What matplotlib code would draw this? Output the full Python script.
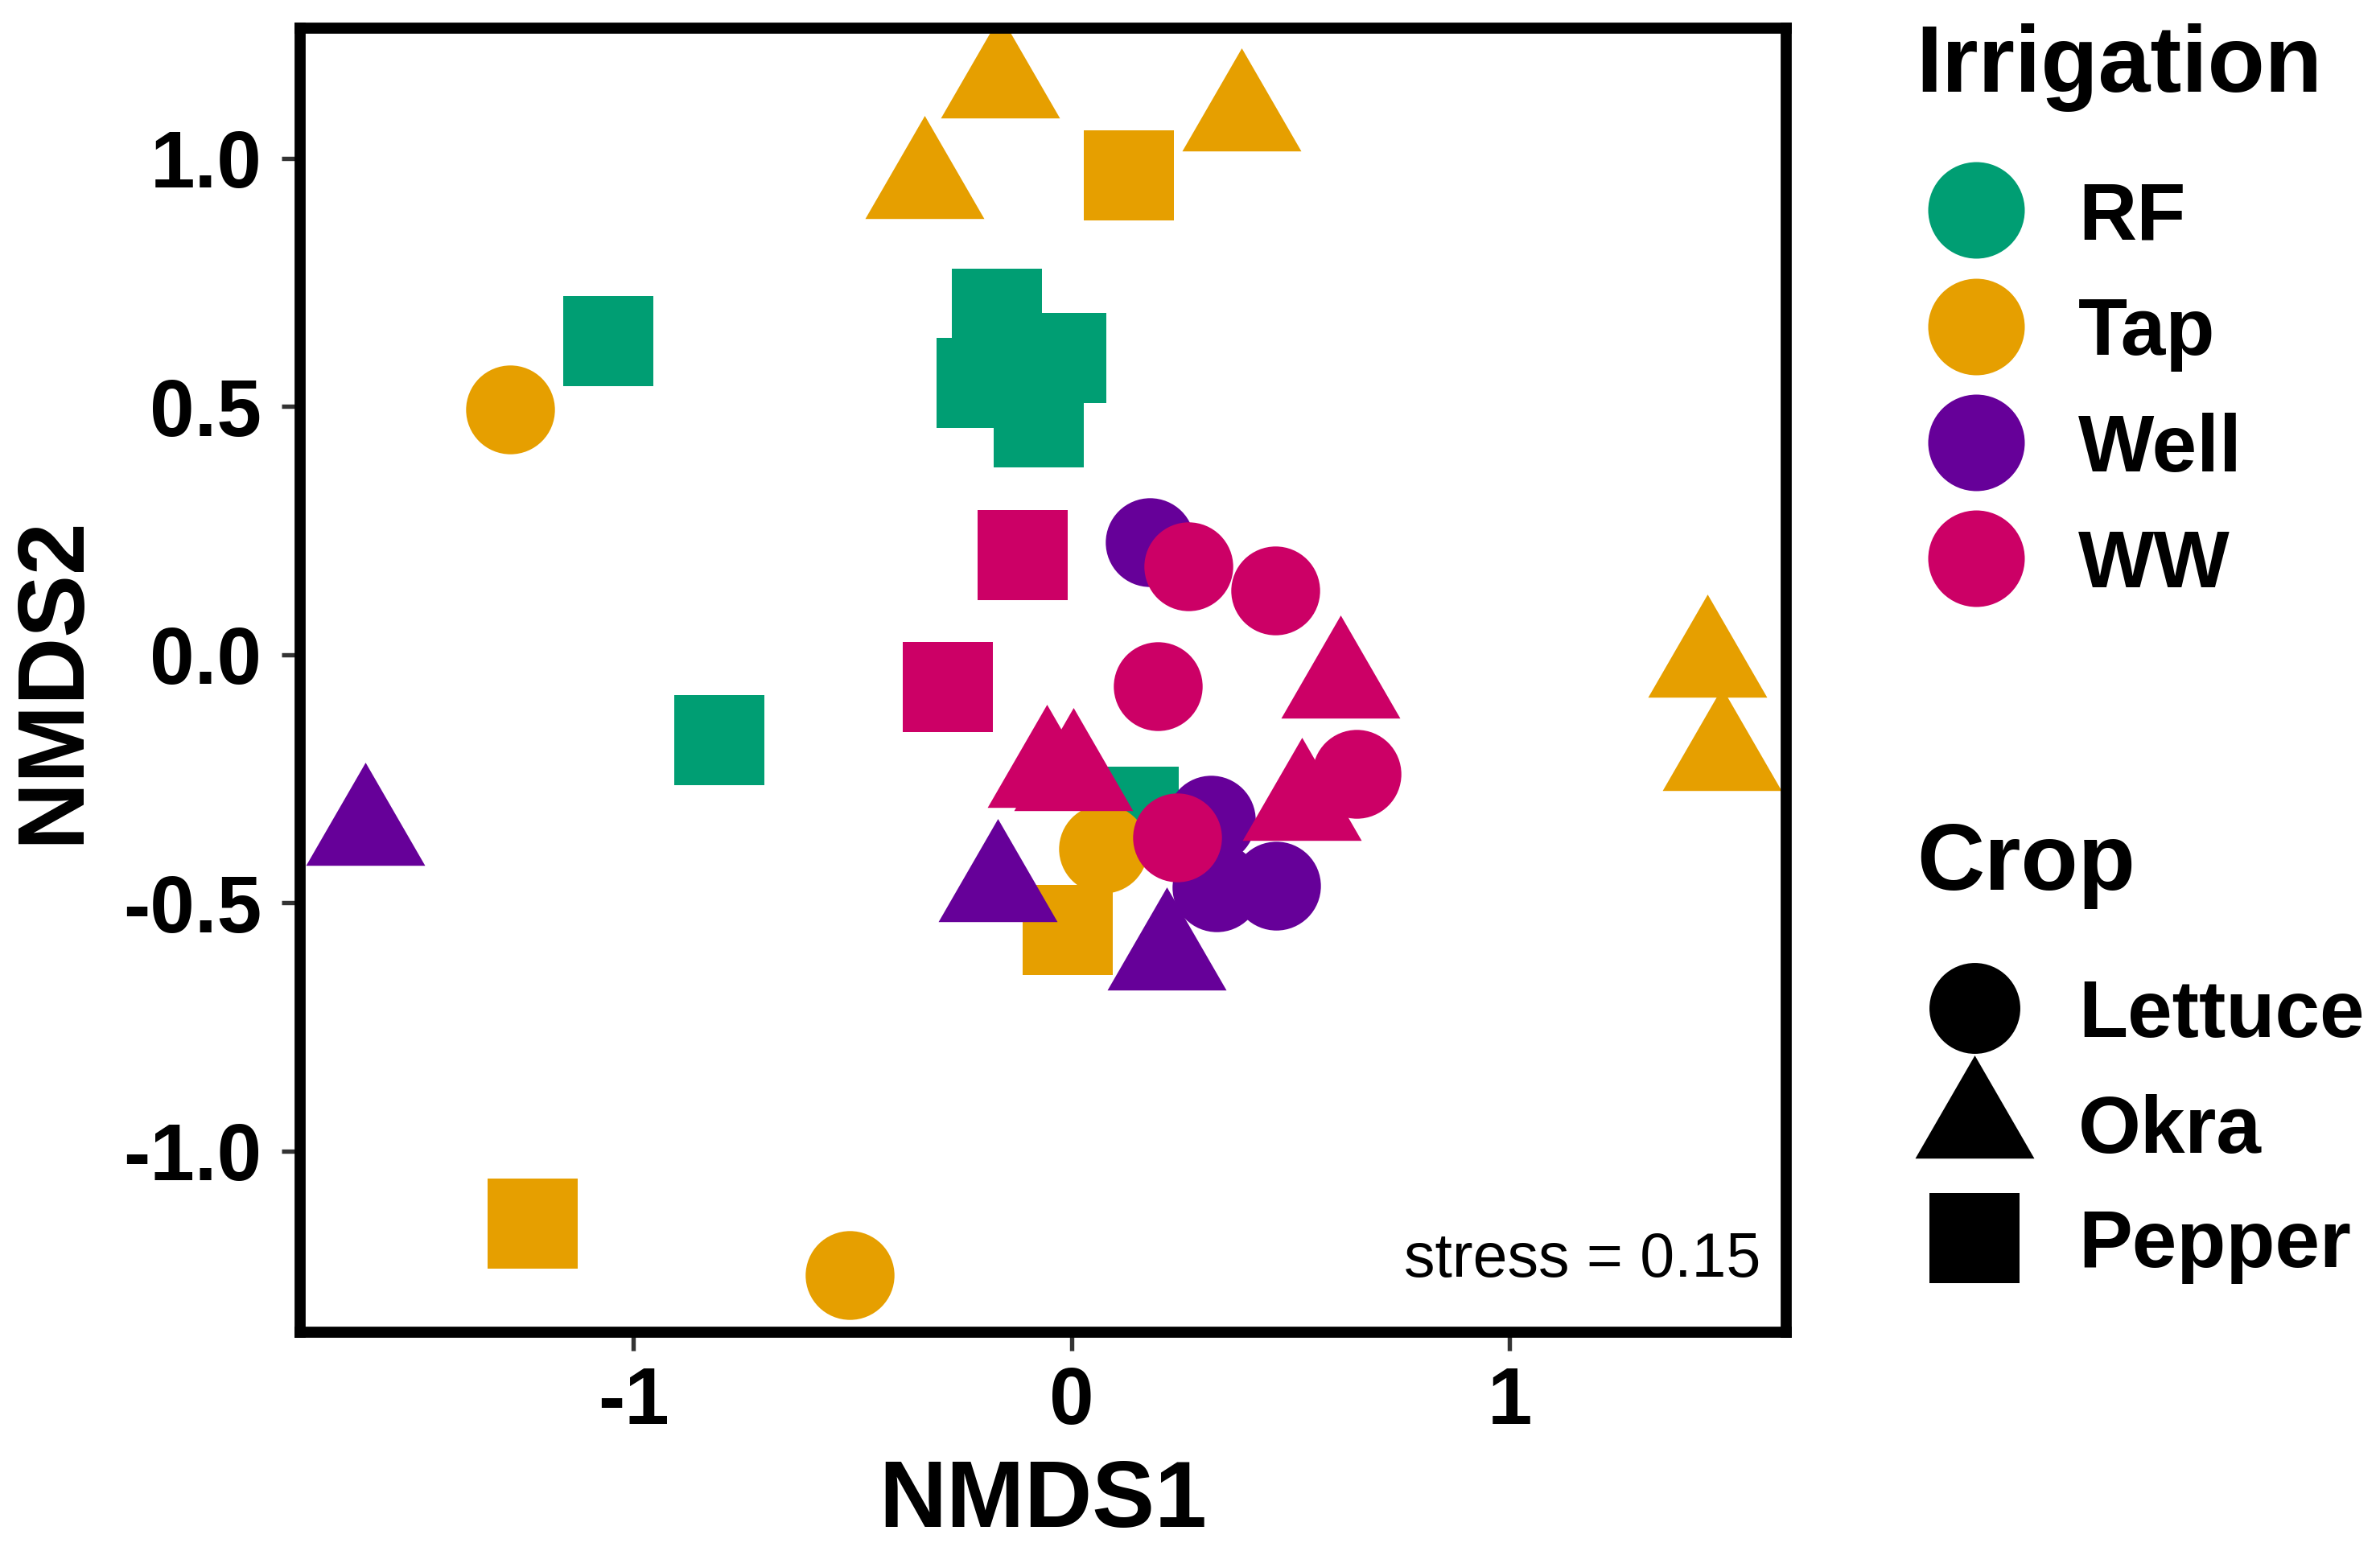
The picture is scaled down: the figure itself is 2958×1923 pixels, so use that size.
import matplotlib
matplotlib.use("Agg")
import matplotlib.pyplot as plt
from matplotlib.path import Path

plt.rcParams["font.family"] = "Liberation Sans"
plt.rcParams["font.weight"] = "bold"
plt.rcParams["axes.unicode_minus"] = False

# ---- data (NMDS scores) ----
irrigation = ["RF", "Tap", "Well", "WW"]
irr_colors = ["#009E73", "#E69F00", "#660099", "#CC0066"]
crops = ["Lettuce", "Okra", "Pepper"]

rf_crop = ["Pepper", "Pepper", "Pepper", "Pepper", "Pepper", "Pepper", "Pepper"]
rf_x = [-1.058, -0.804, -0.170, -0.024, -0.205, -0.076, 0.142]
rf_y = [0.632, -0.172, 0.686, 0.597, 0.548, 0.468, -0.316]

tap_crop = ["Okra", "Okra", "Pepper", "Okra", "Lettuce", "Pepper",
            "Lettuce", "Okra", "Okra", "Lettuce", "Pepper"]
tap_x = [-0.163, -0.335, 0.131, 0.387, -1.281, -1.230, -0.506, 1.451, 1.484, 0.072, -0.009]
tap_y = [1.150, 0.947, 0.965, 1.084, 0.494, -1.146, -1.250, -0.017, -0.205, -0.391, -0.554]

well_crop = ["Okra", "Okra", "Okra", "Lettuce", "Lettuce", "Lettuce", "Lettuce"]
well_x = [-1.612, -0.168, 0.216, 0.178, 0.317, 0.330, 0.466]
well_y = [-0.355, -0.468, -0.606, 0.226, -0.332, -0.468, -0.465]

ww_crop = ["Pepper", "Pepper", "Lettuce", "Lettuce", "Lettuce", "Okra",
           "Okra", "Okra", "Okra", "Lettuce", "Lettuce"]
ww_x = [-0.111, -0.282, 0.267, 0.465, 0.197, 0.613, -0.056, 0.003, 0.525, 0.650, 0.241]
ww_y = [0.201, -0.065, 0.178, 0.130, -0.063, -0.058, -0.238, -0.245, -0.305, -0.240, -0.368]

stress = 0.15

# ---- marker shapes (triangle centred on its centroid, like R's pch 17) ----
tri = Path([(0, 1), (-0.866, -0.5), (0.866, -0.5), (0, 1)],
           [Path.MOVETO, Path.LINETO, Path.LINETO, Path.CLOSEPOLY])
shape = {"Lettuce": "o", "Okra": tri, "Pepper": "s"}
size = {"Lettuce": 26.5 ** 2, "Okra": 41.0 ** 2, "Pepper": 27.1 ** 2}

W, H = 2958, 1923
fig = plt.figure(figsize=(W / 300, H / 300), dpi=300)
ax = fig.add_axes([373 / W, 1 - 1656 / H, (2220 - 373) / W, (1656 - 35) / H])

groups = [
    (rf_x, rf_y, rf_crop),
    (tap_x, tap_y, tap_crop),
    (well_x, well_y, well_crop),
    (ww_x, ww_y, ww_crop),
]
for (xs, ys, cs), col in zip(groups, irr_colors):
    for crop in crops:
        px = [x for x, c in zip(xs, cs) if c == crop]
        py = [y for y, c in zip(ys, cs) if c == crop]
        if px:
            ax.scatter(px, py, marker=shape[crop], s=size[crop], color=col,
                       linewidths=0, zorder=2)

ax.set_xlim(-1.761, 1.631)
ax.set_ylim(-1.365, 1.262)
ax.set_xticks([-1, 0, 1])
ax.set_xticklabels(["-1", "0", "1"])
ax.set_yticks([-1.0, -0.5, 0.0, 0.5, 1.0])
ax.set_yticklabels(["-1.0", "-0.5", "0.0", "0.5", "1.0"])
ax.tick_params(axis="both", labelsize=24, length=5.6, width=1.3, color="#333333")
ax.tick_params(axis="x", pad=4.3)
ax.tick_params(axis="y", pad=5.8)
for lab in ax.get_xticklabels() + ax.get_yticklabels():
    lab.set_fontweight("bold")

for sp in ax.spines.values():
    sp.set_linewidth(3.3)
    sp.set_color("black")

ax.set_xlabel("NMDS1", fontsize=28, fontweight="bold")
ax.xaxis.label.set_va("baseline")
ax.xaxis.set_label_coords(0.5, (1656 - 1898) / 1621)
ax.set_ylabel("NMDS2", fontsize=28, fontweight="bold")
ax.yaxis.label.set_va("center")
ax.yaxis.set_label_coords((66.5 - 373) / 1847, 0.5)

ax.text(0.9827, 0.0426, f"stress = {stress:.2f}", transform=ax.transAxes,
        ha="right", va="baseline", fontsize=18.5, fontweight="normal")

# ---- legends, laid out in figure pixels ----
key = fig.add_axes([0, 0, 1, 1], facecolor="none")
key.set_xlim(0, W)
key.set_ylim(H, 0)
key.axis("off")

key.text(2381, 114, "Irrigation", fontsize=28, fontweight="bold",
         ha="left", va="baseline")
irr_y = [261, 405.5, 549.8, 694]
for name, col, yk in zip(irrigation, irr_colors, irr_y):
    key.scatter([2456], [yk], marker="o", s=28.8 ** 2, color=col, linewidths=0)
    key.text(2583, yk + 36, name, fontsize=24, fontweight="bold",
             ha="left", va="baseline")

key.text(2382, 1106.5, "Crop", fontsize=28, fontweight="bold",
         ha="left", va="baseline")
crop_y = [1252.7, 1397, 1539]
for crop, yk in zip(crops, crop_y):
    s = 27.1 ** 2 if crop == "Lettuce" else size[crop]
    key.scatter([2453.5], [yk], marker=shape[crop], s=s, color="black", linewidths=0)
    key.text(2583, yk + 36, crop, fontsize=24, fontweight="bold",
             ha="left", va="baseline")

fig.savefig("out.png", dpi=300)
